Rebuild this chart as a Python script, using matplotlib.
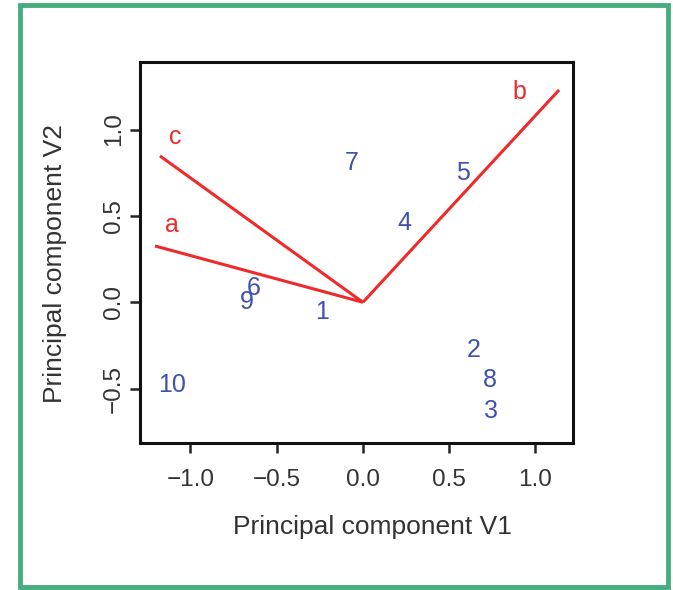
import matplotlib
matplotlib.use('Agg')
import matplotlib.pyplot as plt
from matplotlib.patches import Rectangle

# loadings (red arrows from origin)
load_names = ['a', 'b', 'c']
load_x = [-1.206, 1.138, -1.177]
load_y = [0.326, 1.229, 0.847]
label_x = [-1.107, 0.910, -1.088]
label_y = [0.447, 1.218, 0.957]

# sample scores (blue numbers)
obs_names = ['1', '2', '3', '4', '5', '6', '7', '8', '9', '10']
obs_x = [-0.239, 0.640, 0.742, 0.243, 0.582, -0.636, -0.066, 0.736, -0.674, -1.109]
obs_y = [-0.054, -0.276, -0.629, 0.457, 0.750, 0.081, 0.808, -0.450, 0.004, -0.479]

plt.rcParams['font.family'] = ['Liberation Sans', 'DejaVu Sans']

fig = plt.figure(figsize=(6.73, 5.90), dpi=100)
ax = fig.add_axes([0.208, 0.249, 0.643, 0.646])

red = '#ee2a2a'
blue = '#3f51b0'
for nx, ny in zip(load_x, load_y):
    ax.plot([0, nx], [0, ny], color=red, lw=2.2, solid_capstyle='butt')
for name, lx, ly in zip(load_names, label_x, label_y):
    ax.text(lx, ly, name, color=red, fontsize=18, ha='center', va='center')
for name, px, py in zip(obs_names, obs_x, obs_y):
    ax.text(px, py, name, color=blue, fontsize=18, ha='center', va='center')

ax.set_xlim(-1.293, 1.217)
ax.set_ylim(-0.815, 1.391)
ax.set_xticks([-1.0, -0.5, 0.0, 0.5, 1.0])
ax.set_yticks([-0.5, 0.0, 0.5, 1.0])
ax.set_xticklabels(['\u22121.0', '\u22120.5', '0.0', '0.5', '1.0'])
ax.set_yticklabels(['\u22120.5', '0.0', '0.5', '1.0'], rotation=90, va='center')
ax.tick_params(labelsize=17.5, length=7, width=1.8, color='#222222', labelcolor='#333333')
ax.tick_params(axis='x', pad=12)
ax.tick_params(axis='y', pad=4)
for s in ax.spines.values():
    s.set_linewidth(2.2)
    s.set_color('#111111')

ax.set_xlabel('Principal component V1', fontsize=19, color='#333333', va='center')
ax.set_ylabel('Principal component V2', fontsize=19, color='#333333', va='center')
ax.xaxis.set_label_coords(0.538, -0.22)
ax.yaxis.set_label_coords(-0.196, 0.471)

fig.patches.append(Rectangle((19.5 / 673, 3 / 590), (668 - 19.5) / 673, (588 - 5.5) / 590,
                             transform=fig.transFigure, fill=False,
                             edgecolor='#45ad7f', linewidth=3.5))

fig.savefig('out.png', dpi=100)
